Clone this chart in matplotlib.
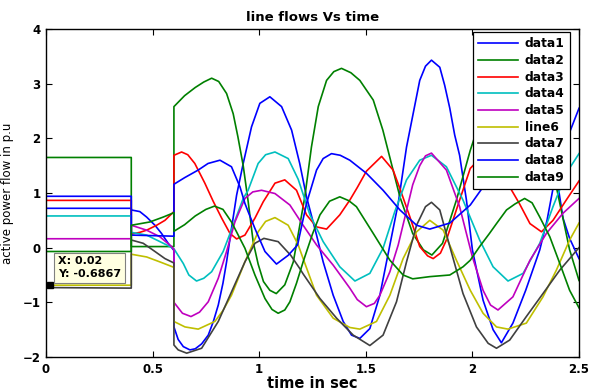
import matplotlib
matplotlib.use("Agg")
import matplotlib.pyplot as plt

# ---------------- data ----------------
t_data1 = [0, 0.4, 0.4, 0.44, 0.472, 0.511, 0.542, 0.573, 0.6, 0.6, 0.62, 0.644, 0.675, 0.70, 0.73,
           0.761, 0.785, 0.808, 0.83, 0.847, 0.87, 0.894, 0.925, 0.964, 1.003, 1.05, 1.105, 1.152,
           1.19, 1.222, 1.269, 1.3, 1.347, 1.394, 1.433, 1.472, 1.519, 1.566, 1.613, 1.652, 1.691,
           1.722, 1.753, 1.78, 1.808, 1.847, 1.87, 1.894, 1.917, 1.94, 1.972, 2.0, 2.05, 2.097,
           2.136, 2.19, 2.25, 2.316, 2.35, 2.378, 2.395, 2.425, 2.456, 2.5]
y_data1 = [0.72, 0.72, 0.69, 0.66, 0.56, 0.41, 0.26, 0.08, -0.05, -1.45, -1.68, -1.81, -1.87, -1.85,
           -1.76, -1.6, -1.35, -1.05, -0.65, -0.26, 0.35, 0.96, 1.54, 2.21, 2.64, 2.76, 2.58, 2.15,
           1.54, 0.93, 0.23, -0.26, -0.87, -1.35, -1.6, -1.66, -1.48, -0.87, 0.05, 0.81, 1.84,
           2.45, 3.06, 3.32, 3.43, 3.30, 2.97, 2.55, 2.06, 1.69, 0.87, -0.04, -0.96, -1.5,
           -1.74, -1.38, -0.78, -0.04, 0.5, 1.08, 1.3, 0.54, 0.17, -0.2]

t_data2 = [0, 0.4, 0.4, 0.6, 0.6, 0.65, 0.70, 0.74, 0.777, 0.81, 0.847, 0.878, 0.90, 0.925, 0.948,
           0.972, 0.995, 1.02, 1.05, 1.08, 1.12, 1.16, 1.19, 1.214, 1.245, 1.277, 1.316, 1.35,
           1.386, 1.43, 1.472, 1.535, 1.58, 1.62, 1.66, 1.72, 1.77, 1.81, 1.86, 1.925, 1.99, 2.05,
           2.1, 2.15, 2.2, 2.25, 2.3, 2.35, 2.39, 2.456, 2.5]
y_data2 = [1.65, 1.65, 0.02, 0.02, 2.58, 2.78, 2.93, 3.03, 3.1, 3.04, 2.82, 2.45, 2.03, 1.5, 0.85,
           0.1, -0.3, -0.62, -0.78, -0.84, -0.68, -0.26, 0.4, 0.93, 1.84, 2.58, 3.06, 3.22,
           3.28, 3.2, 3.06, 2.7, 2.15, 1.54, 0.93, 0.26, -0.04, -0.135, 0.08, 0.87, 1.78, 2.5,
           2.9, 3.1, 3.1, 2.9, 2.5, 1.9, 1.18, -0.04, -0.6]

t_data3 = [0, 0.4, 0.4, 0.44, 0.472, 0.519, 0.558, 0.6, 0.6, 0.636, 0.665, 0.698, 0.745, 0.784,
           0.824, 0.863, 0.894, 0.933, 0.98, 1.019, 1.074, 1.12, 1.175, 1.222, 1.269, 1.316,
           1.378, 1.425, 1.46, 1.503, 1.574, 1.628, 1.66, 1.707, 1.753, 1.79, 1.816, 1.85, 1.878,
           1.94, 1.99, 2.04, 2.08, 2.13, 2.175, 2.22, 2.27, 2.324, 2.378, 2.44, 2.5]
y_data3 = [0.865, 0.865, 0.25, 0.28, 0.32, 0.41, 0.5, 0.66, 1.69, 1.75, 1.7, 1.54, 1.18, 0.85,
           0.54, 0.26, 0.16, 0.23, 0.54, 0.84, 1.18, 1.24, 1.05, 0.6, 0.38, 0.34,
           0.6, 0.87, 1.1, 1.4, 1.67, 1.42, 1.08, 0.56, 0.02, -0.15, -0.2, -0.1, 0.14,
           0.87, 1.45, 1.65, 1.68, 1.5, 1.11, 0.81, 0.44, 0.29, 0.5, 0.87, 1.22]

t_data4 = [0, 0.4, 0.4, 0.472, 0.519, 0.566, 0.6, 0.644, 0.67, 0.706, 0.74, 0.777, 0.831, 0.878,
           0.925, 0.948, 0.995, 1.03, 1.074, 1.136, 1.183, 1.238, 1.3, 1.378, 1.449, 1.519, 1.581,
           1.636, 1.691, 1.753, 1.808, 1.878, 1.956, 2.034, 2.097, 2.167, 2.238, 2.316, 2.378,
           2.44, 2.5]
y_data4 = [0.58, 0.58, 0.28, 0.23, 0.14, 0.05, -0.02, -0.29, -0.5, -0.61, -0.56, -0.44, -0.07, 0.41,
           0.9, 1.05, 1.54, 1.7, 1.75, 1.63, 1.25, 0.6, 0.11, -0.35, -0.61, -0.47, -0.01,
           0.66, 1.24, 1.6, 1.69, 1.48, 0.87, 0.14, -0.35, -0.61, -0.47, 0.08, 0.75,
           1.36, 1.72]

t_data5 = [0, 0.4, 0.4, 0.472, 0.534, 0.589, 0.6, 0.6, 0.64, 0.68, 0.72, 0.761, 0.808, 0.847, 0.886,
           0.933, 0.97, 1.011, 1.074, 1.144, 1.206, 1.269, 1.347, 1.425, 1.46, 1.503, 1.54, 1.566,
           1.613, 1.652, 1.683, 1.72, 1.753, 1.78, 1.808, 1.878, 1.94, 2.0, 2.05, 2.085, 2.12,
           2.19, 2.27, 2.347, 2.425, 2.5]
y_data5 = [0.163, 0.163, 0.41, 0.32, 0.2, 0.02, -0.03, -1.0, -1.2, -1.26, -1.18, -0.99, -0.56, -0.07,
           0.47, 0.9, 1.02, 1.05, 0.99, 0.78, 0.41, 0.05, -0.32, -0.74, -0.95, -1.08, -1.02, -0.87,
           -0.44, 0.05, 0.55, 1.15, 1.5, 1.68, 1.73, 1.42, 0.75, -0.17, -0.78, -1.05, -1.14,
           -0.9, -0.23, 0.26, 0.63, 0.9]

t_line6 = [0, 0.4, 0.4, 0.472, 0.534, 0.6, 0.6, 0.652, 0.714, 0.792, 0.83, 0.87, 0.933, 0.995, 1.03,
           1.074, 1.136, 1.183, 1.206, 1.269, 1.347, 1.425, 1.472, 1.55, 1.613, 1.675, 1.738, 1.80,
           1.863, 1.925, 1.99, 2.05, 2.113, 2.167, 2.253, 2.331, 2.394, 2.456, 2.5]
y_line6 = [-0.6867, -0.6867, -0.12, -0.17, -0.26, -0.36, -1.35, -1.45, -1.49, -1.35, -1.15, -0.87,
           -0.26, 0.29, 0.48, 0.55, 0.41, 0.05, -0.2, -0.87, -1.29, -1.46, -1.49, -1.35, -0.87,
           -0.2, 0.29, 0.5, 0.32, -0.23, -0.78, -1.2, -1.45, -1.49, -1.38, -0.9, -0.41, 0.14, 0.45]

t_data7 = [0, 0.4, 0.4, 0.456, 0.511, 0.558, 0.6, 0.6, 0.62, 0.66, 0.73, 0.808, 0.87, 0.933, 0.98,
           1.022, 1.089, 1.148, 1.19, 1.206, 1.285, 1.363, 1.441, 1.519, 1.581, 1.644, 1.691,
           1.738, 1.78, 1.808, 1.847, 1.894, 1.956, 2.019, 2.074, 2.113, 2.175, 2.253, 2.331,
           2.41, 2.5]
y_data7 = [-0.73, -0.74, 0.14, 0.08, -0.07, -0.2, -0.28, -1.78, -1.87, -1.93, -1.84, -1.35, -0.81,
           -0.26, 0.08, 0.17, 0.11, -0.14, -0.38, -0.48, -0.93, -1.29, -1.6, -1.79, -1.6, -0.99,
           -0.26, 0.41, 0.75, 0.83, 0.69, 0.02, -0.84, -1.45, -1.75, -1.84, -1.69, -1.26, -0.84,
           -0.41, 0.0]

t_data8 = [0, 0.4, 0.4, 0.6, 0.6, 0.65, 0.714, 0.76, 0.816, 0.87, 0.91, 0.933, 0.948, 0.98, 1.027,
           1.081, 1.136, 1.18, 1.222, 1.269, 1.30, 1.339, 1.38, 1.425, 1.503, 1.581, 1.66, 1.738,
           1.80, 1.894, 1.99, 2.05, 2.1, 2.2, 2.3, 2.4, 2.445, 2.5]
y_data8 = [0.94, 0.94, 0.23, 0.21, 1.16, 1.28, 1.42, 1.54, 1.6, 1.48, 1.11, 0.81, 0.66, 0.35, -0.07,
           -0.3, -0.14, 0.05, 0.81, 1.42, 1.63, 1.72, 1.69, 1.6, 1.36, 1.05, 0.69, 0.41,
           0.34, 0.45, 0.78, 1.11, 1.3, 1.45, 1.5, 1.65, 2.0, 2.55]

t_data9 = [0, 0.4, 0.4, 0.487, 0.55, 0.6, 0.6, 0.65, 0.70, 0.75, 0.79, 0.83, 0.87, 0.933, 0.98,
           1.027, 1.06, 1.089, 1.12, 1.144, 1.175, 1.206, 1.25, 1.285, 1.33, 1.378, 1.42, 1.456,
           1.535, 1.613, 1.675, 1.72, 1.8, 1.894, 1.956, 1.99, 2.034, 2.08, 2.113, 2.16, 2.2,
           2.245, 2.28, 2.316, 2.363, 2.41, 2.456, 2.5]
y_data9 = [-0.07, -0.07, 0.41, 0.47, 0.56, 0.64, 0.30, 0.42, 0.58, 0.7, 0.76, 0.7, 0.47, -0.01, -0.5,
           -0.93, -1.13, -1.2, -1.14, -0.99, -0.65, -0.26, 0.25, 0.6, 0.85, 0.93, 0.86, 0.75,
           0.26, -0.23, -0.5, -0.57, -0.53, -0.5, -0.35, -0.23, 0.02, 0.26, 0.44, 0.69, 0.8,
           0.9, 0.82, 0.56, 0.2, -0.29, -0.78, -1.1]

labels = ["data1", "data2", "data3", "data4", "data5", "line6", "data7", "data8", "data9"]
colors = ["#0000ff", "#008000", "#ff0000", "#00bfbf", "#bf00bf", "#bfbf00", "#404040",
          "#0000ff", "#008000"]
series = [(t_data1, y_data1), (t_data2, y_data2), (t_data3, y_data3), (t_data4, y_data4),
          (t_data5, y_data5), (t_line6, y_line6), (t_data7, y_data7), (t_data8, y_data8),
          (t_data9, y_data9)]

xticks = [0, 0.5, 1, 1.5, 2, 2.5]
xticklabels = ["0", "0.5", "1", "1.5", "2", "2.5"]
yticks = [-2, -1, 0, 1, 2, 3, 4]

tip_x, tip_y = 0.02, -0.6867

# ---------------- figure ----------------
fig = plt.figure(figsize=(5.9, 3.91), dpi=100)
ax = fig.add_axes([46 / 590, 1 - 357 / 391, (579 - 46) / 590, (357 - 29) / 391])

for (t, y), lab, c in zip(series, labels, colors):
    ax.plot(t, y, color=c, lw=1.2, label=lab)

ax.set_xlim(0, 2.5)
ax.set_ylim(-2, 4)
ax.set_xticks(xticks)
ax.set_xticklabels(xticklabels)
ax.set_yticks(yticks)
ax.tick_params(direction="in", top=True, right=True, length=4, width=0.8, labelsize=8.5, pad=4)
for lbl in ax.get_xticklabels() + ax.get_yticklabels():
    lbl.set_fontweight("bold")
for s in ax.spines.values():
    s.set_linewidth(1.0)

ax.set_title("line flows Vs time", fontsize=9.5, fontweight="bold", pad=6)
ax.set_xlabel("time in sec", fontsize=10.5, fontweight="bold", labelpad=0)
ax.set_ylabel("active power flow in p.u", fontsize=8.5, labelpad=6)

leg = ax.legend(loc="upper right", bbox_to_anchor=(0.983, 0.991), borderaxespad=0,
                fancybox=False, edgecolor="black", framealpha=1,
                prop={"weight": "bold", "size": 8.8}, handlelength=3.3, handletextpad=0.5,
                labelspacing=0.3, borderpad=0.45)
leg.get_frame().set_linewidth(0.9)

# data tip
ax.plot([tip_x], [tip_y], marker="s", color="black", markersize=4.5, zorder=6)
ax.text(0.058, -0.57, "X: %.2f\nY: %.4f" % (tip_x, tip_y), fontsize=8, fontweight="bold",
        ha="left", va="bottom", zorder=6, linespacing=1.3,
        bbox=dict(boxstyle="square,pad=0.35", facecolor="#ffffe1", edgecolor="#808080", lw=0.8))

fig.savefig("out.png", dpi=100)
